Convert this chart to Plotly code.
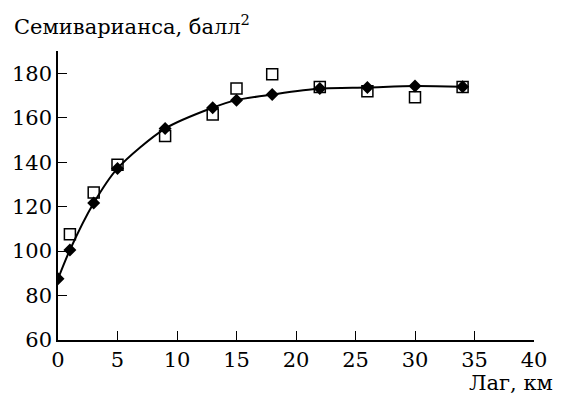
import plotly.graph_objects as go

lag_model = [0, 1, 3, 5, 9, 13, 15, 18, 22, 26, 30, 34]
semivar_model = [87.5, 100.5, 121.6, 137.2, 155.1, 164.5, 167.9, 170.4, 173.1, 173.6, 174.2, 173.9]

lag_emp = [1, 3, 5, 9, 13, 15, 18, 22, 26, 30, 34]
semivar_emp = [107.6, 126.4, 138.8, 151.8, 161.4, 173.1, 179.5, 173.8, 171.9, 169.2, 173.8]

x_ticks = [0, 5, 10, 15, 20, 25, 30, 35, 40]
y_ticks = [60, 80, 100, 120, 140, 160, 180]

FONT = "DejaVu Serif"
FS_TICK = 21
FS_TITLE = 21

W, H = 556, 390
ML, MR, MT, MB = 50, 30, 43, 58
PW, PH = W - ML - MR, H - MT - MB

fig = go.Figure()
fig.add_trace(go.Scatter(
    x=lag_model, y=semivar_model, mode="lines",
    line=dict(color="black", width=2, shape="spline", smoothing=0.8),
    showlegend=False, hoverinfo="skip"))
fig.add_trace(go.Scatter(
    x=lag_emp, y=semivar_emp, mode="markers",
    marker=dict(symbol="square-open", size=11, color="black", line=dict(width=1.5, color="black")),
    showlegend=False))
fig.add_trace(go.Scatter(
    x=lag_model, y=semivar_model, mode="markers",
    marker=dict(symbol="diamond", size=10, color="black"),
    showlegend=False))

fig.update_layout(
    width=W, height=H,
    margin=dict(l=ML, r=MR, t=MT, b=MB, autoexpand=False),
    paper_bgcolor="white", plot_bgcolor="white",
    font=dict(family=FONT, size=FS_TICK, color="black"),
    xaxis=dict(range=[0, 40], tickvals=x_ticks, ticks="inside", ticklen=9,
               tickwidth=1.3, tickcolor="black", showline=True, linecolor="black",
               linewidth=1.5, showgrid=False, zeroline=False, fixedrange=True,
               tickfont=dict(family=FONT, size=FS_TICK, color="black")),
    yaxis=dict(range=[60, 190], tickvals=y_ticks, ticks="inside", ticklen=9,
               tickwidth=1.3, tickcolor="black", showline=True, linecolor="black",
               linewidth=1.5, showgrid=False, zeroline=False, fixedrange=True,
               tickfont=dict(family=FONT, size=FS_TICK, color="black")),
    annotations=[
        dict(text="Семиварианса, балл<sup>2</sup>", xref="paper", yref="paper",
             x=-46 / PW, y=1 + 42 / PH, xanchor="left", yanchor="top",
             showarrow=False, font=dict(family=FONT, size=FS_TITLE, color="black")),
        dict(text="Лаг, км", xref="paper", yref="paper",
             x=1 + 21 / PW, y=-(MB - 1) / PH, xanchor="right", yanchor="bottom",
             showarrow=False, font=dict(family=FONT, size=FS_TITLE, color="black")),
    ],
)

fig.write_html("out.html")
